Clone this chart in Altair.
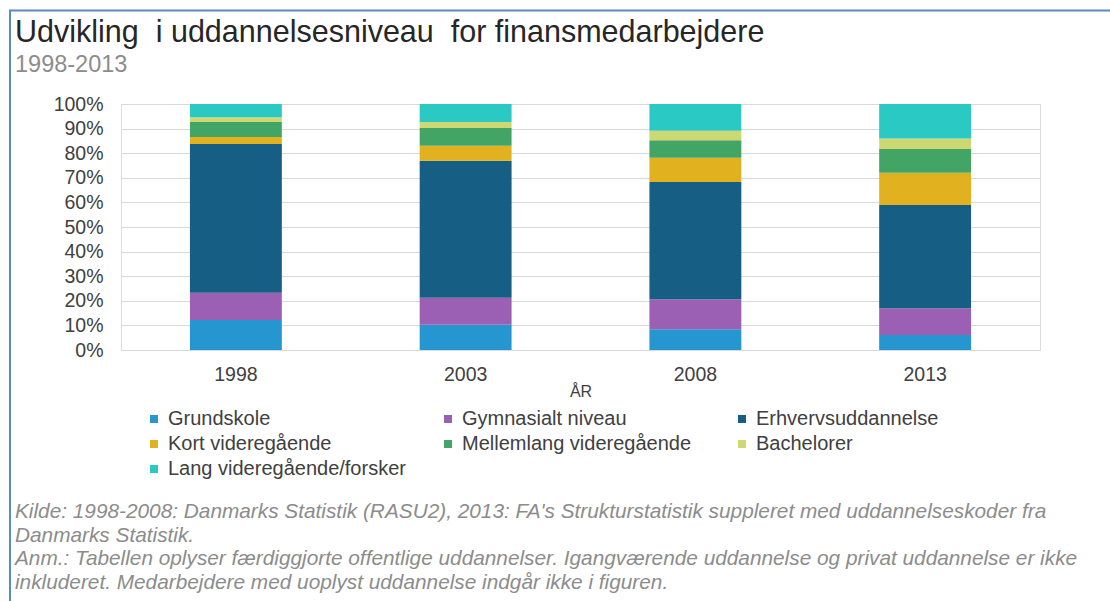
import altair as alt
import pandas as pd

years = ["1998", "2003", "2008", "2013"]
categories = [
    "Grundskole",
    "Gymnasialt niveau",
    "Erhvervsuddannelse",
    "Kort videregående",
    "Mellemlang videregående",
    "Bachelorer",
    "Lang videregående/forsker",
]
grundskole = [12.2, 10.2, 8.4, 6.1]
gymnasialt = [11.0, 11.0, 12.2, 10.8]
erhverv = [60.4, 55.4, 47.6, 41.7]
kort = [2.8, 6.1, 9.8, 13.1]
mellemlang = [6.1, 7.2, 7.1, 9.6]
bachelor = [1.9, 2.4, 3.8, 4.2]
lang = [5.4, 7.3, 10.9, 14.0]
colors = ["#2596CF", "#9B5FB4", "#165E83", "#E2B11F", "#42A465", "#CDD872", "#2BC9C4"]

title_text = "Udvikling\u00a0 i uddannelsesniveau\u00a0 for finansmedarbejdere"
subtitle_text = "1998-2013"
footnote_lines = [
    "Kilde: 1998-2008: Danmarks Statistik (RASU2), 2013: FA's Strukturstatistik suppleret med uddannelseskoder fra",
    "Danmarks Statistik.",
    "Anm.: Tabellen oplyser færdiggjorte offentlige uddannelser. Igangværende uddannelse og privat uddannelse er ikke",
    "inkluderet. Medarbejdere med uoplyst uddannelse indgår ikke i figuren.",
]

series = [grundskole, gymnasialt, erhverv, kort, mellemlang, bachelor, lang]
rows = []
for ci, (cat, vals) in enumerate(zip(categories, series)):
    for y, v in zip(years, vals):
        rows.append({"year": y, "cat": cat, "value": v, "idx": ci})
df = pd.DataFrame(rows)

FONT = "Liberation Sans"

bars = alt.Chart(df).mark_bar().encode(
    x=alt.X("year:N", title="ÅR", scale=alt.Scale(paddingInner=0.6, paddingOuter=0.3),
            axis=alt.Axis(labelAngle=0, ticks=False, domainColor="#d9d9d9",
                          labelFontSize=19.5, labelColor="#404040", labelFont=FONT, labelPadding=15,
                          titleFontSize=16, titleFont=FONT, titleColor="#404040", titleFontWeight="normal",
                          titlePadding=0)),
    y=alt.Y("value:Q", stack="normalize", title=None,
            scale=alt.Scale(domain=[0, 1]),
            axis=alt.Axis(format=".0%", values=[i / 10 for i in range(11)], domain=False, ticks=False,
                          gridColor="#d9d9d9", labelFontSize=19.5, labelColor="#404040", labelFont=FONT,
                          labelPadding=18)),
    color=alt.Color("cat:N", scale=alt.Scale(domain=categories, range=colors),
                    legend=alt.Legend(orient="none", legendX=23, legendY=305, columns=3, direction="horizontal",
                                      title=None,
                                      symbolType="square", symbolSize=64, symbolStrokeWidth=0,
                                      labelFontSize=20, labelFont=FONT, labelColor="#404040",
                                      gridAlign="all", columnPadding=32, rowPadding=5, labelLimit=500,
                                      labelOffset=4)),
    order=alt.Order("idx:Q", sort="ascending"),
)

title_df = pd.DataFrame({"t": [title_text], "s": [subtitle_text],
                         "n": ["\n".join(footnote_lines)]})
title_mark = alt.Chart(title_df).mark_text(
    align="left", baseline="alphabetic", fontSize=30.5, font=FONT, color="#262626"
).encode(text="t:N", x=alt.value(-106), y=alt.value(-62))
subtitle_mark = alt.Chart(title_df).mark_text(
    align="left", baseline="alphabetic", fontSize=23.5, font=FONT, color="#8c8c8c"
).encode(text="s:N", x=alt.value(-106), y=alt.value(-32))
footnote = alt.Chart(title_df).mark_text(
    align="left", baseline="alphabetic", fontStyle="italic", fontSize=20.8, font=FONT,
    color="#8c8c8c", lineBreak="\n", lineHeight=23.5
).encode(text="n:N", x=alt.value(-106), y=alt.value(414))

border_df = pd.DataFrame({"a": [0]})
left_border = alt.Chart(border_df).mark_rule(color="#5A8AC6", strokeWidth=2).encode(
    x=alt.value(-111), y=alt.value(-94), y2=alt.value(497))
top_border = alt.Chart(border_df).mark_rule(color="#5A8AC6", strokeWidth=2).encode(
    x=alt.value(-112), x2=alt.value(989), y=alt.value(-93.5))

chart = alt.layer(bars, title_mark, subtitle_mark, footnote, left_border, top_border).properties(
    width=919, height=246,
    autosize=alt.AutoSizeParams(type="none"),
    padding={"left": 121, "top": 104, "right": 70, "bottom": 251},
).configure_view(stroke=None).configure(background="white")

chart.save("out.html", embed_options={"renderer": "svg", "actions": False})
